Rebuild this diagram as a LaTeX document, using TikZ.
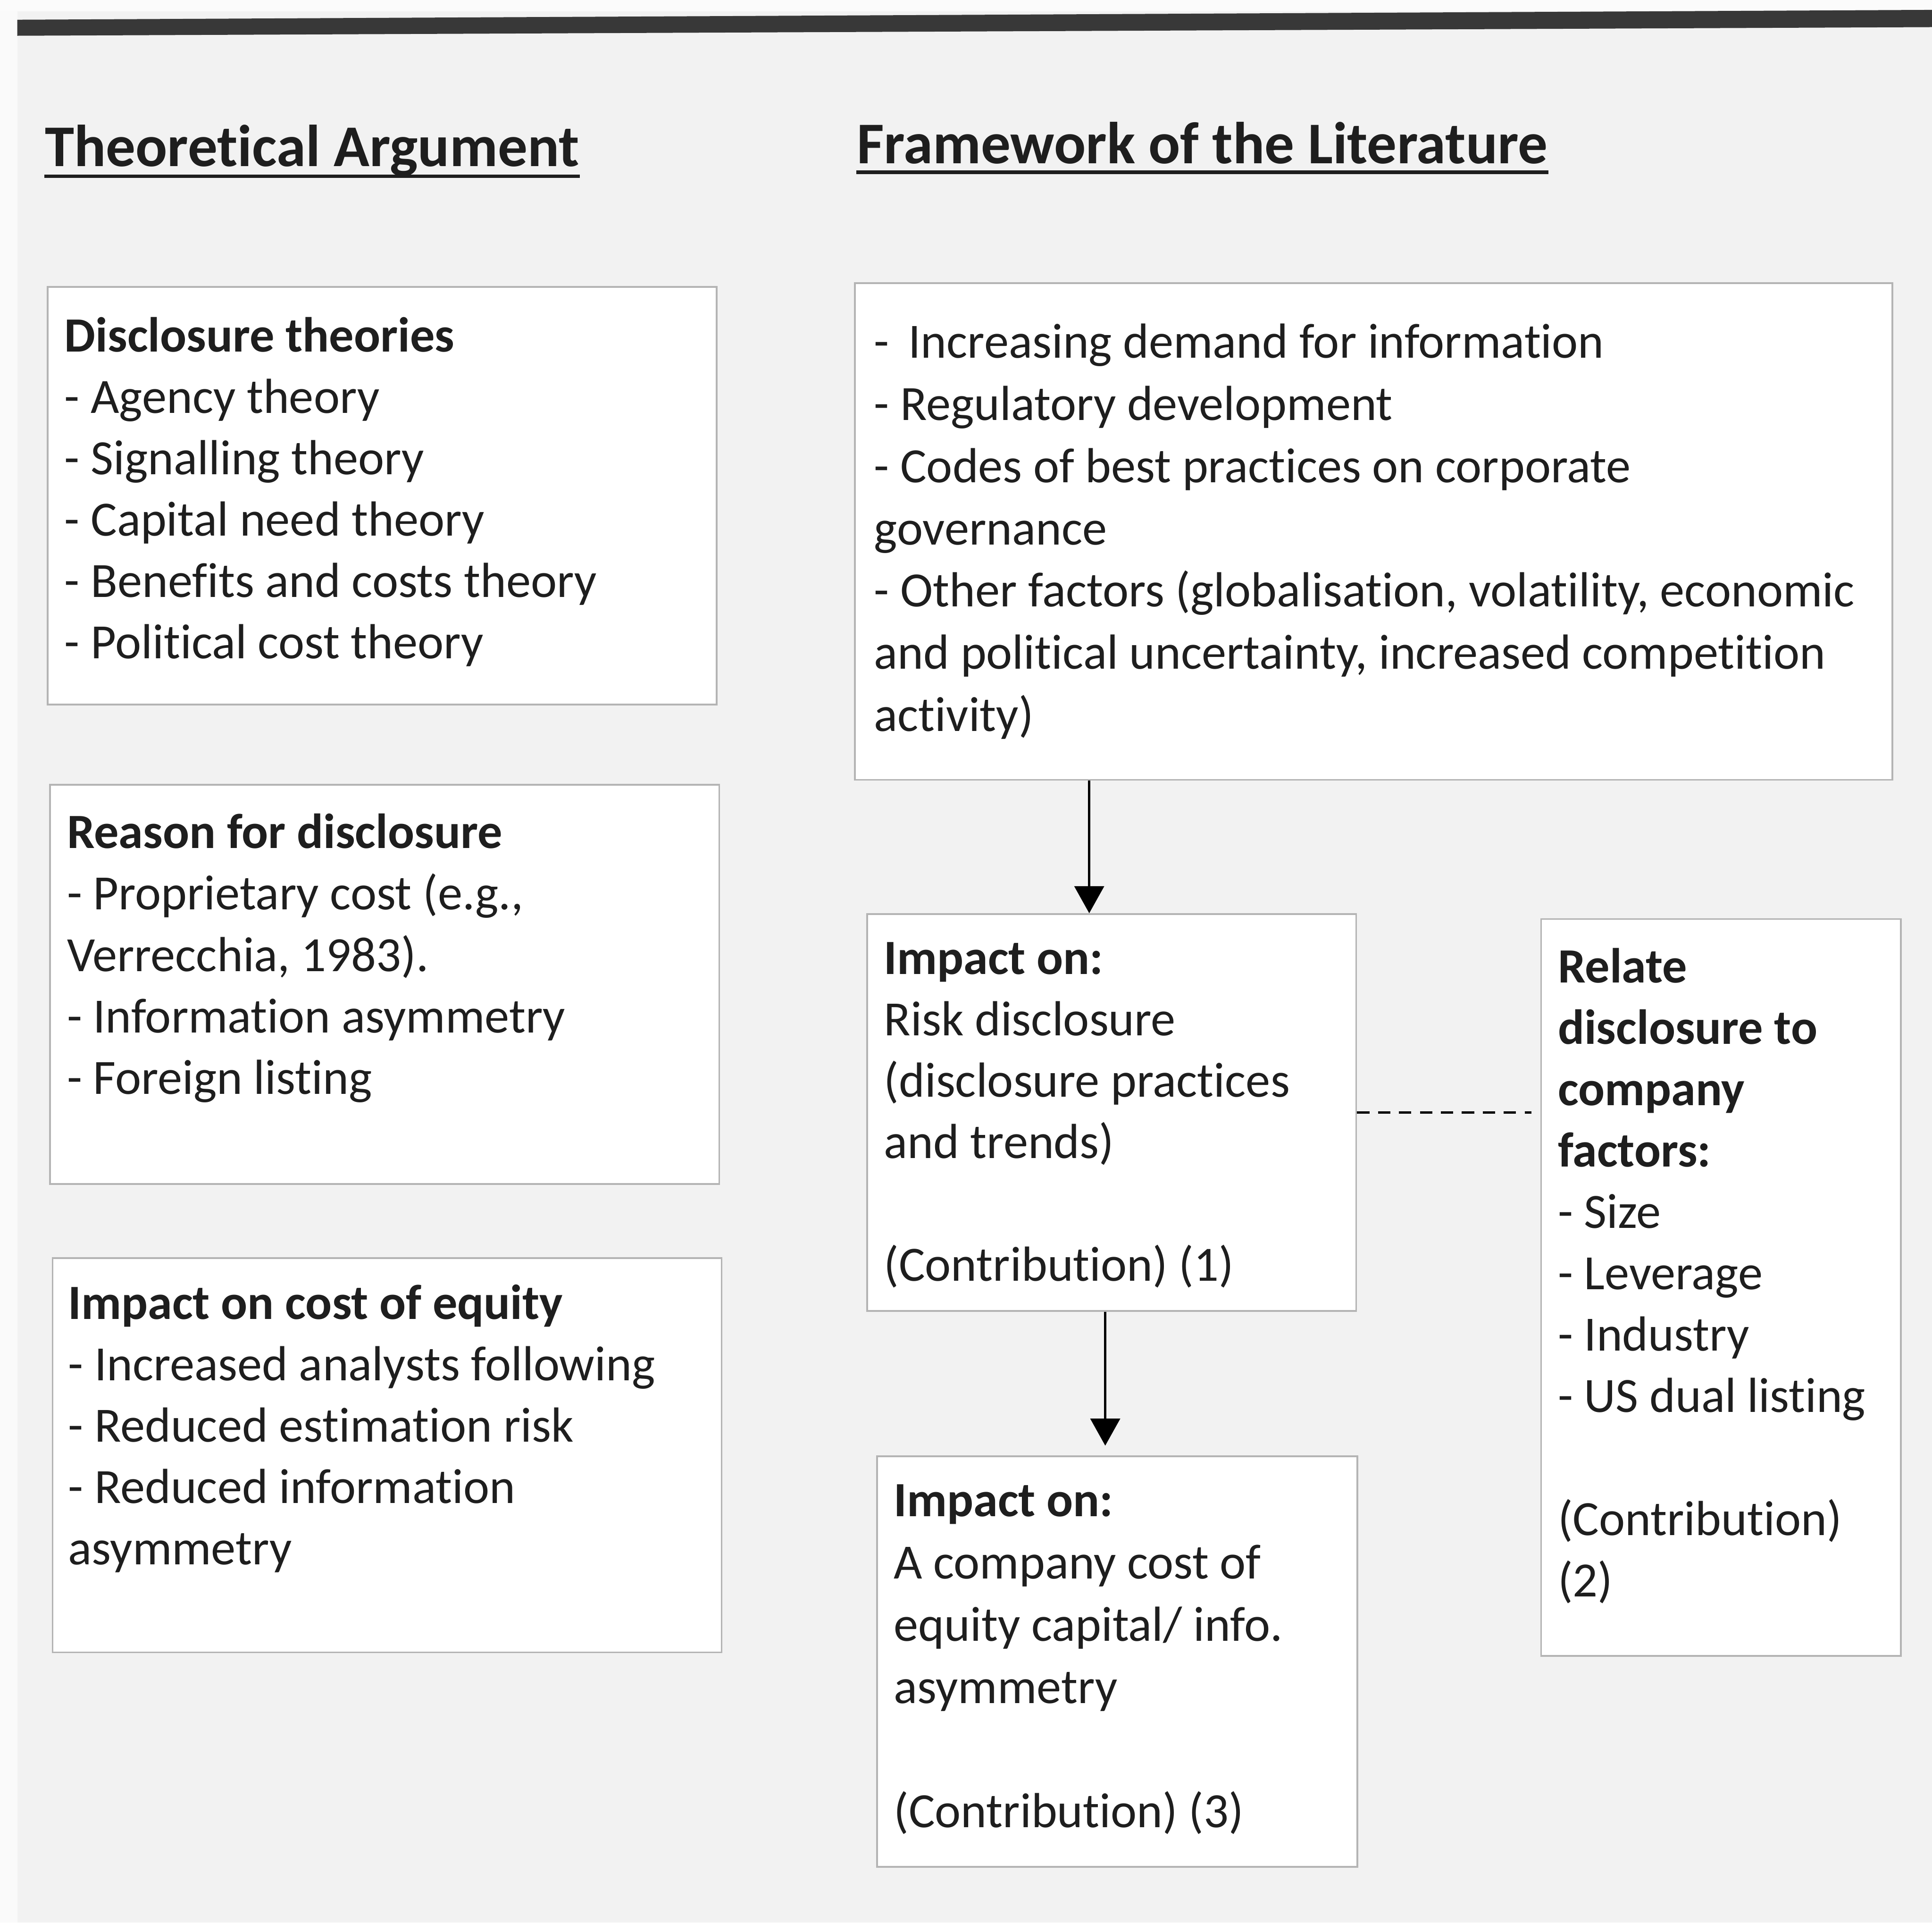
\documentclass[tikz,border=0pt]{standalone}
\usepackage{fontspec}
\setmainfont[Ligatures={NoCommon,NoContextual}]{Carlito}
\usetikzlibrary{arrows.meta}
\definecolor{bg}{HTML}{F2F2F2}
\definecolor{edgec}{HTML}{B4B4B4}
\definecolor{ink}{HTML}{1E1E1E}
\newcommand{\firstl}{\rule{0pt}{17pt}}
\begin{document}
\begin{tikzpicture}[x=0.5pt,y=-0.5pt,
  box/.style={draw=edgec, fill=white, line width=0.7pt, anchor=north west, inner sep=0pt},
  txt/.style={anchor=north west, inner sep=0pt, align=left, font=\fontsize{20}{24.9}\selectfont, text=ink},
  txtb/.style={anchor=north west, inner sep=0pt, align=left, font=\fontsize{20}{25.25}\selectfont, text=ink},
  hdr/.style={anchor=base west, inner sep=0pt, font=\fontsize{24}{29}\selectfont\bfseries, text=ink},
  ul/.style={draw=ink, line width=1.5pt},
  arr/.style={draw=black, line width=1pt, -{Triangle[length=11pt,width=12pt]}},
  dashline/.style={draw=black, line width=1pt, dash pattern=on 5pt off 3.5pt}]
\fill[bg] (0,0) rectangle (1568,1560);
\useasboundingbox (0,0) rectangle (1568,1560);
\fill[white!60!bg] (0,0) rectangle (14,1560);
\fill[white!70!bg] (0,0) rectangle (1568,9);
\fill[black!78] (14,16) -- (1568,8) -- (1568,22) -- (14,29) -- cycle;

% headers
\node[hdr] (h1) at (36,135) {Theoretical Argument};
\node[hdr] (h2) at (695,132.7) {Framework of the Literature};
\draw[ul] ([yshift=-4pt]h1.base west) -- ([yshift=-4pt]h1.base east);
\draw[ul] ([yshift=-3.5pt]h2.base west) -- ([yshift=-3.5pt]h2.base east);

% boxes
\node[box, minimum width=271.5pt, minimum height=169.5pt] (b1) at (38,232) {};
\node[box, minimum width=271.5pt, minimum height=162pt] (b2) at (40,636) {};
\node[box, minimum width=271.5pt, minimum height=160pt] (b3) at (42,1020) {};
\node[box, minimum width=421pt, minimum height=201.5pt] (b4) at (693,229) {};
\node[box, minimum width=198.5pt, minimum height=161pt] (b5) at (703,741) {};
\node[box, minimum width=146pt, minimum height=299pt] (b6) at (1250,745) {};
\node[box, minimum width=195pt, minimum height=166.5pt] (b7) at (711,1181) {};

% texts
\node[txt] (t1) at (52,251) {\firstl\textbf{Disclosure theories}\\- Agency theory\\- Signalling theory\\- Capital need theory\\- Benefits and costs theory\\- Political cost theory};
\node[txt] (t2) at (54,654) {\firstl\textbf{Reason for disclosure}\\- Proprietary cost (e.g.,\\Verrecchia, 1983).\\- Information asymmetry\\- Foreign listing};
\node[txt] (t3) at (55,1036) {\firstl\textbf{Impact on cost of equity}\\- Increased analysts following\\- Reduced estimation risk\\- Reduced information\\asymmetry};
\node[txtb] (t4) at (709,256) {\firstl-\, Increasing demand for information\\- Regulatory development\\- Codes of best practices on corporate\\governance\\- Other factors (globalisation, volatility, economic\\and political uncertainty, increased competition\\activity)};
\node[txt] (t5) at (717,756) {\firstl\textbf{Impact on:}\\Risk disclosure\\(disclosure practices\\and trends)\\[24.9pt](Contribution) (1)};
\node[txt] (t6) at (1264,763) {\firstl\textbf{Relate}\\\textbf{disclosure to}\\\textbf{company}\\\textbf{factors:}\\- Size\\- Leverage\\- Industry\\- US dual listing\\[24.9pt](Contribution)\\(2)};
\node[txtb] (t7) at (725,1196) {\firstl\textbf{Impact on:}\\A company cost of\\equity capital/ info.\\asymmetry\\[25.25pt](Contribution) (3)};

% connectors
\draw[arr] ([xshift=95.5pt]b4.south west) -- ([xshift=90.5pt]b5.north west);
\draw[arr, shorten >=4pt] ([xshift=97pt]b5.south west) -- ([xshift=93pt]b7.north west);
\draw[dashline, shorten >=3.5pt] (b5.east) -- (b5.east -| b6.west);
\end{tikzpicture}
\end{document}
